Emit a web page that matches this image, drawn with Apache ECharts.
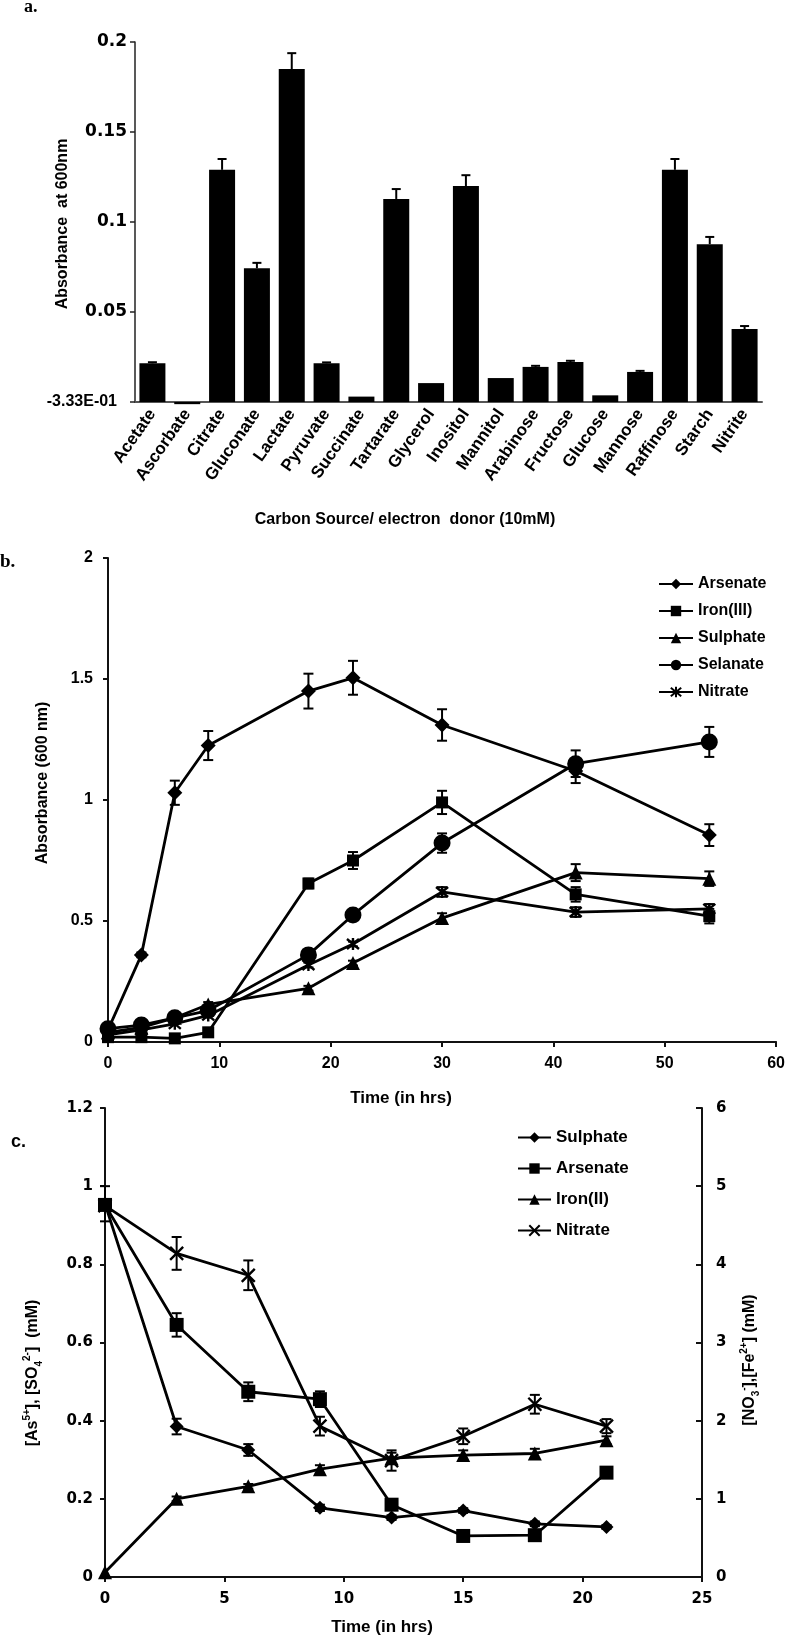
<!DOCTYPE html>
<html><head><meta charset="utf-8">
<script src="https://cdn.jsdelivr.net/npm/echarts@6/dist/echarts.min.js"></script>
<style>html,body{margin:0;padding:0;background:#fff}#c{width:788px;height:1638px}</style>
</head><body><div id="c"></div>
<script>
// ---------- Panel a ----------
const carbonSources = ['Acetate','Ascorbate','Citrate','Gluconate','Lactate','Pyruvate','Succinate','Tartarate','Glycerol','Inositol','Mannitol','Arabinose','Fructose','Glucose','Mannose','Raffinose','Starch','Nitrite'];
const absorbanceA = [0.0215,-0.0012,0.129,0.0743,0.185,0.0215,0.003,0.1128,0.0105,0.120,0.0133,0.0195,0.0222,0.0037,0.0167,0.129,0.0877,0.0405];
const absorbanceAErr = [0.0006,0,0.006,0.003,0.0088,0.0005,0,0.0055,0,0.006,0,0.0006,0.0007,0,0.0006,0.006,0.004,0.0017];
const aTickLabels = ['-3.33E-01','0.05','0.1','0.15','0.2'];

// ---------- Panel b ----------
const timeB = [0,3,6,9,18,22,30,42,54];
const arsenateB = [0.05,0.36,1.03,1.225,1.45,1.505,1.31,1.12,0.855];
const arsenateBErr = [0.01,0.01,0.05,0.06,0.072,0.07,0.065,0.05,0.045];
const ironIIIB = [0.02,0.02,0.015,0.04,0.655,0.75,0.99,0.61,0.52];
const ironIIIBErr = [0,0,0,0,0.02,0.035,0.048,0.03,0.03];
const sulphateB = [0.04,0.06,0.10,0.155,0.222,0.326,0.512,0.70,0.675];
const sulphateBErr = [0,0,0,0.01,0.01,0.01,0.02,0.035,0.03];
const selanateB = [0.055,0.07,0.10,0.13,0.36,0.525,0.822,1.15,1.24];
const selanateBErr = [0,0,0,0,0.01,0.015,0.04,0.055,0.062];
const nitrateB = [0.03,0.05,0.075,0.11,0.318,0.405,0.62,0.537,0.55];
const nitrateBErr = [0,0,0,0,0.01,0.01,0.02,0.02,0.02];

// ---------- Panel c ----------
const timeC = [0,3,6,9,12,15,18,21];
const sulphateC = [0.955,0.385,0.325,0.177,0.152,0.17,0.136,0.128];
const sulphateCErr = [0.045,0.02,0.015,0.008,0.006,0.006,0.006,0.005];
const arsenateC = [0.952,0.645,0.474,0.455,0.185,0.105,0.107,0.267];
const arsenateCErr = [0.01,0.03,0.024,0.02,0.008,0.006,0.006,0.006];
const ironIIC = [0.06,1.0,1.16,1.38,1.52,1.56,1.58,1.75];
const ironIICErr = [0,0.03,0.03,0.05,0.07,0.06,0.06,0.05];
const nitrateC = [4.75,4.14,3.86,1.93,1.49,1.80,2.21,1.93];
const nitrateCErr = [0.05,0.21,0.19,0.12,0.13,0.1,0.12,0.09];

const ARIAL = "'Liberation Sans', Arial, sans-serif";
const DEJAVU = "'DejaVu Sans', sans-serif";
const SERIF = "'Liberation Serif', 'Times New Roman', serif";
const XPATH = 'path://M0,0L10,10M10,0L0,10';
const STARPATH = 'path://M0,0L10,10M10,0L0,10M5,-1L5,11';

const zip = (xs, ys) => xs.map((x, i) => [x, ys[i]]);
const errData = (xs, ys, es) => xs.map((x, i) => [x, ys[i] - es[i], ys[i] + es[i]]).filter((d, i) => es[i] > 0);

function errSeries(xi, yi, data, capW, lw, topOnly) {
  return {
    type: 'custom', xAxisIndex: xi, yAxisIndex: yi, silent: true, z: 5,
    encode: { x: 0, y: [1, 2] },
    data: data,
    renderItem: function (params, api) {
      const x = api.value(0), lo = api.value(1), hi = api.value(2);
      const p1 = api.coord([x, lo]), p2 = api.coord([x, hi]);
      const st = { stroke: '#000', lineWidth: lw };
      const ch = [
        { type: 'line', shape: { x1: p1[0], y1: p1[1], x2: p2[0], y2: p2[1] }, style: st },
        { type: 'line', shape: { x1: p2[0] - capW / 2, y1: p2[1], x2: p2[0] + capW / 2, y2: p2[1] }, style: st }
      ];
      if (!topOnly) ch.push({ type: 'line', shape: { x1: p1[0] - capW / 2, y1: p1[1], x2: p1[0] + capW / 2, y2: p1[1] }, style: st });
      return { type: 'group', children: ch };
    }
  };
}

function lineSeries(name, xi, yi, xs, ys, symbol, size, stroke) {
  return {
    name: name, type: 'line', xAxisIndex: xi, yAxisIndex: yi,
    data: zip(xs, ys), symbol: symbol, symbolSize: size, showSymbol: true,
    lineStyle: { color: '#000', width: 2.8 },
    itemStyle: stroke ? { color: '#000', borderColor: '#000', borderWidth: 2.4 } : { color: '#000', borderWidth: 0 },
    emphasis: { disabled: true }, z: 3, animation: false
  };
}

const bold16 = { fontFamily: ARIAL, fontWeight: 'bold', fontSize: 16, color: '#000' };
const axisBlack = { show: true, lineStyle: { color: '#111', width: 2 } };

const chart = echarts.init(document.getElementById('c'), null, { renderer: 'canvas' });
const option = {
  animation: false,
  backgroundColor: '#fff',
  grid: [
    { left: 135, top: 42, width: 627, height: 360 },
    { left: 108, top: 558, width: 669, height: 484 },
    { left: 105, top: 1108, width: 597, height: 469 }
  ],
  xAxis: [
    { type: 'category', gridIndex: 0, data: carbonSources,
      axisLine: { show: true, lineStyle: { color: '#555', width: 2 } },
      axisTick: { show: false },
      axisLabel: { interval: 0, rotate: 55, margin: 9, fontFamily: ARIAL, fontWeight: 'bold', fontSize: 17, color: '#000' } },
    { type: 'value', gridIndex: 1, min: 0, max: 60, interval: 10,
      axisLine: axisBlack, axisTick: { show: true, length: 5, lineStyle: { color: '#111', width: 2 } },
      splitLine: { show: false },
      axisLabel: Object.assign({ margin: 14 }, bold16) },
    { type: 'value', gridIndex: 2, min: 0, max: 25, interval: 5,
      axisLine: axisBlack, axisTick: { show: true, length: 5, lineStyle: { color: '#111', width: 2 } },
      splitLine: { show: false },
      axisLabel: { margin: 15, fontFamily: DEJAVU, fontWeight: 'bold', fontSize: 15, color: '#000' } }
  ],
  yAxis: [
    { type: 'value', gridIndex: 0, min: 0, max: 0.2, interval: 0.05,
      axisLine: { show: true, lineStyle: { color: '#222', width: 1.5 } },
      axisTick: { show: true, length: 5, lineStyle: { color: '#222', width: 1.5 } },
      splitLine: { show: false },
      axisLabel: { margin: 8, fontFamily: DEJAVU, fontWeight: 'bold', fontSize: 17, color: '#000',
        formatter: function (v) { const i = Math.round(v / 0.05); return i === 0 ? '{z|' + aTickLabels[0] + '}' : aTickLabels[i]; },
        rich: { z: { fontFamily: ARIAL, fontWeight: 'bold', fontSize: 16, color: '#000', padding: [0, 10, 0, 0] } } } },
    { type: 'value', gridIndex: 1, min: 0, max: 2, interval: 0.5,
      axisLine: axisBlack, axisTick: { show: true, length: 5, lineStyle: { color: '#111', width: 2 } },
      splitLine: { show: false },
      axisLabel: Object.assign({ margin: 15 }, bold16) },
    { type: 'value', gridIndex: 2, min: 0, max: 1.2, interval: 0.2, position: 'left',
      axisLine: axisBlack, axisTick: { show: true, length: 5, lineStyle: { color: '#111', width: 2 } },
      splitLine: { show: false },
      axisLabel: { margin: 12, fontFamily: DEJAVU, fontWeight: 'bold', fontSize: 15, color: '#000' } },
    { type: 'value', gridIndex: 2, min: 0, max: 6, interval: 1, position: 'right',
      axisLine: axisBlack, axisTick: { show: true, inside: true, length: 6, lineStyle: { color: '#111', width: 2 } },
      splitLine: { show: false },
      axisLabel: { margin: 14, fontFamily: DEJAVU, fontWeight: 'bold', fontSize: 15, color: '#000' } }
  ],
  legend: [
    { data: ['b:Arsenate','b:Iron(III)','b:Sulphate','b:Selanate','b:Nitrate'],
      formatter: n => n.slice(2), orient: 'vertical', left: 653, top: 571,
      itemWidth: 34, itemHeight: 13, itemGap: 11, selectedMode: false,
      textStyle: { fontFamily: ARIAL, fontWeight: 'bold', fontSize: 16, color: '#000' } },
    { data: ['c:Sulphate','c:Arsenate','c:Iron(II)','c:Nitrate'],
      formatter: n => n.slice(2), orient: 'vertical', left: 512, top: 1124,
      itemWidth: 33, itemHeight: 13, itemGap: 14, selectedMode: false,
      textStyle: { fontFamily: ARIAL, fontWeight: 'bold', fontSize: 17, color: '#000' } }
  ],
  series: [
    { type: 'bar', xAxisIndex: 0, yAxisIndex: 0, data: absorbanceA, barWidth: 26, clip: false,
      itemStyle: { color: '#000' }, silent: true, z: 2 },
    errSeries(0, 0, absorbanceA.map((v, i) => [i, v, v + absorbanceAErr[i]]).filter((d, i) => absorbanceAErr[i] > 0), 9, 2, true),

    lineSeries('b:Arsenate', 1, 1, timeB, arsenateB, 'diamond', 15, false),
    lineSeries('b:Iron(III)', 1, 1, timeB, ironIIIB, 'rect', 12, false),
    lineSeries('b:Sulphate', 1, 1, timeB, sulphateB, 'triangle', 14, false),
    lineSeries('b:Selanate', 1, 1, timeB, selanateB, 'circle', 17, false),
    lineSeries('b:Nitrate', 1, 1, timeB, nitrateB, STARPATH, 12, true),
    errSeries(1, 1, [].concat(
      errData(timeB, arsenateB, arsenateBErr), errData(timeB, ironIIIB, ironIIIBErr),
      errData(timeB, sulphateB, sulphateBErr), errData(timeB, selanateB, selanateBErr),
      errData(timeB, nitrateB, nitrateBErr)), 10, 2, false),

    lineSeries('c:Sulphate', 2, 2, timeC, sulphateC, 'diamond', 14, false),
    lineSeries('c:Arsenate', 2, 2, timeC, arsenateC, 'rect', 14, false),
    lineSeries('c:Iron(II)', 2, 3, timeC, ironIIC, 'triangle', 14, false),
    lineSeries('c:Nitrate', 2, 3, timeC, nitrateC, XPATH, 13, true),
    errSeries(2, 2, [].concat(errData(timeC, sulphateC, sulphateCErr), errData(timeC, arsenateC, arsenateCErr)), 10, 2, false),
    errSeries(2, 3, [].concat(errData(timeC, ironIIC, ironIICErr), errData(timeC, nitrateC, nitrateCErr)), 10, 2, false)
  ],
  graphic: [
    { type: 'text', x: 24, y: 7, style: { text: 'a.', font: 'bold 18px ' + SERIF, fill: '#000', align: 'left', verticalAlign: 'middle' } },
    { type: 'text', x: 63, y: 224, rotation: Math.PI / 2, style: { text: 'Absorbance  at 600nm', font: 'bold 16px ' + ARIAL, fill: '#000', align: 'center', verticalAlign: 'middle' } },
    { type: 'text', x: 405, y: 520, style: { text: 'Carbon Source/ electron  donor (10mM)', font: 'bold 16px ' + ARIAL, fill: '#000', align: 'center', verticalAlign: 'middle' } },
    { type: 'text', x: 0, y: 562, style: { text: 'b.', font: 'bold 19px ' + SERIF, fill: '#000', align: 'left', verticalAlign: 'middle' } },
    { type: 'text', x: 43, y: 783, rotation: Math.PI / 2, style: { text: 'Absorbance (600 nm)', font: 'bold 16px ' + ARIAL, fill: '#000', align: 'center', verticalAlign: 'middle' } },
    { type: 'text', x: 401, y: 1098, style: { text: 'Time (in hrs)', font: 'bold 17px ' + ARIAL, fill: '#000', align: 'center', verticalAlign: 'middle' } },
    { type: 'text', x: 11, y: 1142, style: { text: 'c.', font: 'bold 18px ' + ARIAL, fill: '#000', align: 'left', verticalAlign: 'middle' } },
    { type: 'text', x: 33, y: 1373, rotation: Math.PI / 2, style: {
        text: '{n|[As}{sup|5+}{n|], [SO}{sub|4}{sup|2-}{n|]  (mM)}', align: 'center', verticalAlign: 'middle',
        rich: {
          n: { font: 'bold 16px ' + ARIAL, fill: '#000', lineHeight: 22 },
          sup: { font: 'bold 10px ' + ARIAL, fill: '#000', verticalAlign: 'top', lineHeight: 22 },
          sub: { font: 'bold 10px ' + ARIAL, fill: '#000', verticalAlign: 'bottom', lineHeight: 22 }
        } } },
    { type: 'text', x: 750, y: 1360, rotation: Math.PI / 2, style: {
        text: '{n|[NO}{sub|3}{sup|-}{n|],[Fe}{sup|2+}{n|] (mM)}', align: 'center', verticalAlign: 'middle',
        rich: {
          n: { font: 'bold 16px ' + ARIAL, fill: '#000', lineHeight: 22 },
          sup: { font: 'bold 10px ' + ARIAL, fill: '#000', verticalAlign: 'top', lineHeight: 22 },
          sub: { font: 'bold 10px ' + ARIAL, fill: '#000', verticalAlign: 'bottom', lineHeight: 22 }
        } } },
    { type: 'text', x: 382, y: 1627, style: { text: 'Time (in hrs)', font: 'bold 17px ' + ARIAL, fill: '#000', align: 'center', verticalAlign: 'middle' } }
  ]
};
chart.setOption(option);
</script>
</body></html>
